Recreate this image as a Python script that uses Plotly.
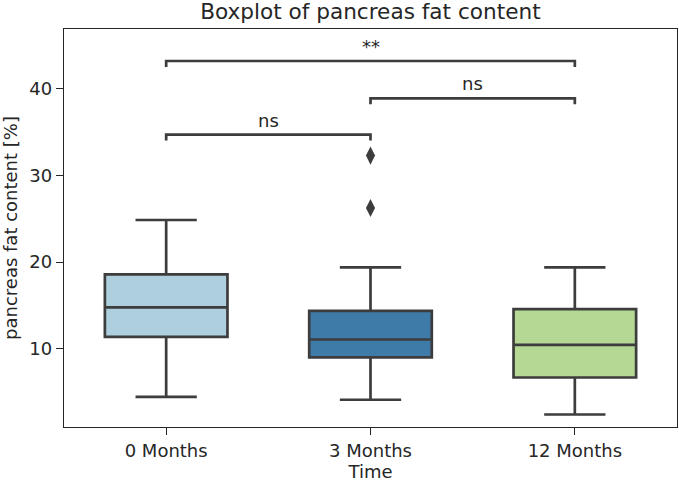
import plotly.graph_objects as go

# ---- data ----
categories = ["0 Months", "3 Months", "12 Months"]
lower_whisker = [4.46, 4.12, 2.42]
q1_values = [11.38, 9.0, 6.69]
medians = [14.77, 11.07, 10.46]
q3_values = [18.57, 14.38, 14.58]
upper_whisker = [24.85, 19.38, 19.38]
outlier_cats = ["3 Months", "3 Months"]
outlier_values = [26.23, 32.27]
box_colors = ["#aecfdd", "#3f7ba8", "#b5d994"]

# significance brackets: (from index, to index, base y, height, label)
bracket_from = [0, 1, 0]
bracket_to = [1, 2, 2]
bracket_y = [34.0, 38.2, 42.5]
bracket_h = [0.68, 0.68, 0.68]
bracket_labels = ["ns", "ns", "**"]

LINE = "#3d3d3d"
TXT = "#262626"
FONT = "DejaVu Sans"

fig = go.Figure()
for i, cat in enumerate(categories):
    fig.add_trace(go.Box(
        x=[cat], q1=[q1_values[i]], median=[medians[i]], q3=[q3_values[i]],
        lowerfence=[lower_whisker[i]], upperfence=[upper_whisker[i]],
        fillcolor=box_colors[i], line=dict(color=LINE, width=2.7),
        width=0.6, whiskerwidth=0.5, boxpoints=False, showlegend=False,
        hoverinfo="skip",
    ))

fig.add_trace(go.Scatter(
    x=outlier_cats, y=outlier_values, mode="markers",
    marker=dict(symbol="diamond-tall", size=13, color=LINE, line=dict(width=0)),
    showlegend=False, hoverinfo="skip",
))

annotations = []
for a, b, y, h, lab in zip(bracket_from, bracket_to, bracket_y, bracket_h, bracket_labels):
    fig.add_trace(go.Scatter(
        x=[categories[a], categories[a], categories[b], categories[b]],
        y=[y, y + h, y + h, y], mode="lines",
        line=dict(color=LINE, width=2.7), showlegend=False, hoverinfo="skip",
    ))
    annotations.append(dict(
        x=(a + b) / 2, y=y + h, xref="x", yref="y", text=lab, showarrow=False,
        yanchor="bottom", yshift=2, font=dict(family=FONT, size=18, color=TXT),
    ))

fig.update_layout(
    width=679, height=482,
    margin=dict(l=64, r=2, t=29, b=55),
    paper_bgcolor="white", plot_bgcolor="white",
    font=dict(family=FONT, size=18, color=TXT),
    boxmode="overlay",
    annotations=annotations,
    title=dict(text="Boxplot of pancreas fat content", x=0.5455, xanchor="center",
               y=1 - 11 / 482, yanchor="middle",
               font=dict(family=FONT, size=21.6, color=TXT)),
)

fig.update_xaxes(
    type="category", categoryorder="array", categoryarray=categories,
    range=[-0.5, 2.5], showgrid=False, zeroline=False,
    showline=True, mirror=True, linecolor=TXT, linewidth=1.4,
    ticks="outside", ticklen=7, tickwidth=1.4, tickcolor=TXT,
    tickfont=dict(family=FONT, size=18, color=TXT),
    title=dict(text="Time", font=dict(family=FONT, size=18, color=TXT), standoff=7),
)
fig.update_yaxes(
    range=[0.98, 46.87], tickvals=[10, 20, 30, 40], showgrid=False, zeroline=False,
    showline=True, mirror=True, linecolor=TXT, linewidth=1.4,
    ticks="outside", ticklen=7, tickwidth=1.4, tickcolor=TXT,
    tickfont=dict(family=FONT, size=18, color=TXT),
    title=dict(text="pancreas fat content [%]", font=dict(family=FONT, size=18, color=TXT), standoff=7),
)

fig.write_html("out.html")
